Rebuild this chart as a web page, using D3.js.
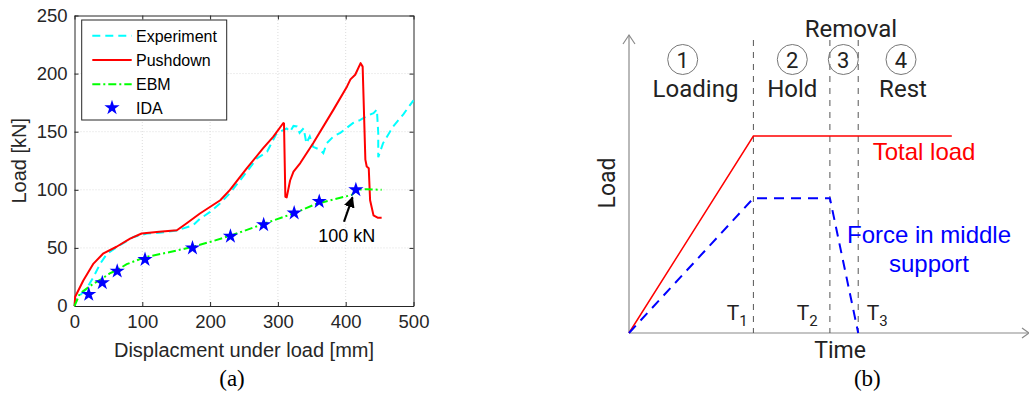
<!DOCTYPE html>
<html><head><meta charset="utf-8">
<script src="https://cdn.jsdelivr.net/npm/d3@7"></script>
<style>body{margin:0;background:#fff}svg{display:block}</style>
</head><body>
<svg id="c" width="1029" height="394"></svg>
<script>
// ---------- Panel (a) data ----------
const xTicks = [0,100,200,300,400,500];
const yTicks = [0,50,100,150,200,250];
const experimentX = [0,1,18,28,38,48,67,87,107,125,151,175,185,200,215,229,244,256,269,284,298,313,318,323,328,332,338,342,347,352,362,367,372,382,392,411,421,433,441,446,448,448,455,470,485,500];
const experimentY = [0,5,15,25,36.5,45,52.3,59.4,62.4,63,65,69.5,75,81,88.5,97,108,117,127,132.7,148.5,152.8,150,155,154.5,149,153,140,146,137,134.5,131.6,140,146,149,157.5,160,164,166,169,149,128,140,154.5,165,177];
const pushdownX = [0,1,13,28,42,62,82,99,125,151,165,185,215,229,254,278,293,308,309,311,313,318,323,333,352,382,402,407,414,422,425,429,431,434,436,441,447,453];
const pushdownY = [0,8,22,36.5,45,51,58,62.4,64,65.2,71,79.6,91,99.7,118.4,135.6,145.6,157.5,157,94,93.5,108,115.7,123,140,169,189,195,199,209,206,126,120,118.6,91,78,76,76];
const ebmX = [0,8,28,39,52,63,77,104,141,175,205,235,278,323,357,409,416,431,453];
const ebmY = [0,10.7,19.3,23,28,31,36,42,46.5,51,56,61.5,70.5,79.6,88,95.6,100,100.5,100];
const idaX = [21,41,63,104,174,230,279,324,361,415];
const idaY = [10,20,30,40,50,60,70,80,90,100];
const legendNames = ["Experiment","Pushdown","EBM","IDA"];

// ---------- Panel (b) data (schematic) ----------
const phaseTimes = [0,4,6.46,7.37,10.38];       // 0, T1, T2, T3, end
const totalLoadT = [0,4,10.38];
const totalLoadV = [0,1,1];
const supportT = [0,4,6.46,7.37];
const supportV = [0,0.684,0.684,0];
const phaseNums = ["1","2","3","4"];
const phaseNames = ["Loading","Hold","","Rest"];

const svg = d3.select("#c");
const axC = "#262626";

// ===== Panel (a) =====
const x = d3.scaleLinear().domain([0,500]).range([74.5,413.5]);
const y = d3.scaleLinear().domain([0,250]).range([306,15.5]);
const ga = svg.append("g");

// grid
ga.selectAll(".gx").data(xTicks.slice(1,-1)).join("line")
  .attr("x1",d=>x(d)).attr("x2",d=>x(d)).attr("y1",y(0)).attr("y2",y(250))
  .attr("stroke","#dcdcdc").attr("stroke-dasharray","1,2").attr("stroke-width",1);
ga.selectAll(".gy").data(yTicks.slice(1,-1)).join("line")
  .attr("y1",d=>y(d)).attr("y2",d=>y(d)).attr("x1",x(0)).attr("x2",x(500))
  .attr("stroke","#dcdcdc").attr("stroke-dasharray","1,2").attr("stroke-width",1);

// axes
const axB = ga.append("g").attr("transform",`translate(0,${y(0)})`)
  .call(d3.axisBottom(x).tickValues(xTicks).tickSizeInner(-4).tickSizeOuter(0).tickPadding(9));
const axT = ga.append("g").attr("transform",`translate(0,${y(250)})`)
  .call(d3.axisTop(x).tickValues(xTicks).tickSizeInner(-4).tickSizeOuter(0).tickFormat(""));
const axL = ga.append("g").attr("transform",`translate(${x(0)},0)`)
  .call(d3.axisLeft(y).tickValues(yTicks).tickSizeInner(-4).tickSizeOuter(0).tickPadding(7));
const axR = ga.append("g").attr("transform",`translate(${x(500)},0)`)
  .call(d3.axisRight(y).tickValues(yTicks).tickSizeInner(-4).tickSizeOuter(0).tickFormat(""));
[axB,axT,axL,axR].forEach(a=>{
  a.select(".domain").attr("stroke",axC).attr("stroke-width",1);
  a.selectAll(".tick line").attr("stroke",axC);
  a.selectAll("text").attr("fill",axC).attr("font-family","Liberation Sans, Arial, sans-serif").attr("font-size",18.5);
});

// lines
const lineA = d3.line().x(d=>x(d[0])).y(d=>y(d[1]));
const expData = experimentX.map((v,i)=>[v,experimentY[i]]);
const pushData = pushdownX.map((v,i)=>[v,pushdownY[i]]);
const ebmData = ebmX.map((v,i)=>[v,ebmY[i]]);
ga.append("path").datum(expData).attr("d",lineA).attr("fill","none")
  .attr("stroke","#00ffff").attr("stroke-width",2).attr("stroke-dasharray","8,5");
ga.append("path").datum(pushData).attr("d",lineA).attr("fill","none")
  .attr("stroke","#ff0000").attr("stroke-width",2).attr("stroke-linejoin","round");
ga.append("path").datum(ebmData).attr("d",lineA).attr("fill","none")
  .attr("stroke","#00ff00").attr("stroke-width",2).attr("stroke-dasharray","8,3,2,3");
const star = d3.symbol().type(d3.symbolStar).size(72);
ga.selectAll(".ida").data(idaX.map((v,i)=>[v,idaY[i]])).join("path")
  .attr("d",star).attr("transform",d=>`translate(${x(d[0])},${y(d[1])})`).attr("fill","#0000ff");

// annotation
ga.append("defs").append("marker").attr("id","ah").attr("viewBox","0 0 10 10").attr("refX",9).attr("refY",5)
  .attr("markerWidth",5).attr("markerHeight",5).attr("orient","auto")
  .append("path").attr("d","M0,0 L10,5 L0,10 z").attr("fill","#000");
ga.append("line").attr("x1",x(397.5)).attr("y1",y(72.5)).attr("x2",x(410)).attr("y2",y(93.5))
  .attr("stroke","#000").attr("stroke-width",2.2).attr("marker-end","url(#ah)");
ga.append("text").attr("x",x(401.5)).attr("y",y(55.5)).attr("text-anchor","middle")
  .attr("font-family","Liberation Sans, Arial, sans-serif").attr("font-size",18).attr("fill","#000").text("100 kN");

// legend
const lg = ga.append("g");
lg.append("rect").attr("x",81.7).attr("y",20).attr("width",145).attr("height",100)
  .attr("fill","#fff").attr("stroke",axC).attr("stroke-width",1);
const rowsY = [35.7,60,84.3,107.7];
const lstyles = [{c:"#00ffff",d:"8,5"},{c:"#ff0000",d:null},{c:"#00ff00",d:"8,3,2,3"}];
lstyles.forEach((s,i)=>{
  lg.append("line").attr("x1",92.3).attr("x2",131.7).attr("y1",rowsY[i]).attr("y2",rowsY[i])
    .attr("stroke",s.c).attr("stroke-width",2).attr("stroke-dasharray",s.d);
});
lg.append("path").attr("d",star).attr("transform",`translate(112,${rowsY[3]})`).attr("fill","#0000ff");
lg.selectAll(".lt").data(legendNames).join("text").attr("x",136).attr("y",(d,i)=>rowsY[i]+6)
  .attr("font-family","Liberation Sans, Arial, sans-serif").attr("font-size",16).attr("fill","#000").text(d=>d);

// axis labels
ga.append("text").attr("x",244).attr("y",357).attr("text-anchor","middle")
  .attr("font-family","Liberation Sans, Arial, sans-serif").attr("font-size",20).attr("fill",axC)
  .text("Displacment under load [mm]");
ga.append("text").attr("transform",`translate(26,${(y(0)+y(250))/2}) rotate(-90)`).attr("text-anchor","middle")
  .attr("font-family","Liberation Sans, Arial, sans-serif").attr("font-size",20).attr("fill",axC)
  .text("Load [kN]");
ga.append("text").attr("x",232).attr("y",386).attr("text-anchor","middle")
  .attr("font-family","Liberation Serif, Times New Roman, serif").attr("font-size",23).attr("fill","#000").text("(a)");

// ===== Panel (b) =====
const tx = d3.scaleLinear().domain([0,10]).range([629,940]);
const ty = d3.scaleLinear().domain([0,1]).range([333,136]);
const gb = svg.append("g");
const gray = "#8a8a8a";
const dinFont = "Roboto, 'Noto Sans', sans-serif";

// axes with open arrows
gb.append("line").attr("x1",tx(0)).attr("y1",ty(0)).attr("x2",tx(0)).attr("y2",35).attr("stroke",gray).attr("stroke-width",1.2);
gb.append("path").attr("d",`M${tx(0)-6},${44} L${tx(0)},35 L${tx(0)+6},44`).attr("fill","none").attr("stroke",gray).attr("stroke-width",1.2);
gb.append("line").attr("x1",tx(0)).attr("y1",ty(0)).attr("x2",1028).attr("y2",ty(0)).attr("stroke",gray).attr("stroke-width",1.2);
gb.append("path").attr("d",`M${1022},${ty(0)-5} L1029,${ty(0)} L1022,${ty(0)+5}`).attr("fill","none").attr("stroke",gray).attr("stroke-width",1.2);

// phase dashed lines
gb.selectAll(".pl").data(phaseTimes.slice(1,4)).join("line")
  .attr("x1",d=>tx(d)).attr("x2",d=>tx(d)).attr("y1",40).attr("y2",ty(0))
  .attr("stroke","#555").attr("stroke-width",1).attr("stroke-dasharray","6,6");

const lineB = d3.line().x(d=>tx(d[0])).y(d=>ty(d[1]));
gb.append("path").datum(totalLoadT.map((t,i)=>[t,totalLoadV[i]])).attr("d",lineB)
  .attr("fill","none").attr("stroke","#ff0000").attr("stroke-width",1.5);
gb.append("path").datum(supportT.map((t,i)=>[t,supportV[i]])).attr("d",lineB)
  .attr("fill","none").attr("stroke","#0000ff").attr("stroke-width",2).attr("stroke-dasharray","10,7");

// phase labels
const phaseCx = [682.7,792.3,843.3,901];
phaseCx.forEach((cx,i)=>{
  gb.append("circle").attr("cx",cx).attr("cy",59.5).attr("r",15).attr("fill","none").attr("stroke","#777").attr("stroke-width",1);
  gb.append("text").attr("x",cx).attr("y",67.5).attr("text-anchor","middle").attr("font-family",dinFont)
    .attr("font-size",22).attr("fill","#222").text(phaseNums[i]);
  if (phaseNames[i]) gb.append("text").attr("x",i===3?903:(i===0?695.5:cx)).attr("y",96.5).attr("text-anchor","middle")
    .attr("font-family",dinFont).attr("font-size",24).attr("fill","#222").text(phaseNames[i]);
});
gb.append("text").attr("x",851).attr("y",37.3).attr("text-anchor","middle").attr("font-family",dinFont)
  .attr("font-size",24).attr("fill","#222").text("Removal");

// T labels
const tLabelX = [726.7,796.7,866.7];
["1","2","3"].forEach((s,i)=>{
  const t = gb.append("text").attr("x",tLabelX[i]).attr("y",320).attr("font-family",dinFont)
    .attr("font-size",21).attr("fill","#222");
  t.append("tspan").text("T");
  t.append("tspan").attr("dy",6).attr("font-size",15).text(s);
});
gb.append("text").attr("x",840).attr("y",358).attr("text-anchor","middle").attr("font-family",dinFont)
  .attr("font-size",23).attr("fill","#222").text("Time");
gb.append("text").attr("transform","translate(615,183) rotate(-90)").attr("text-anchor","middle").attr("font-family",dinFont)
  .attr("font-size",23).attr("fill","#222").text("Load");

// curve labels
gb.append("text").attr("x",872.7).attr("y",160).attr("font-family","Liberation Sans, Arial, sans-serif")
  .attr("font-size",24).attr("fill","#ff0000").text("Total load");
gb.append("text").attr("x",929).attr("y",243).attr("text-anchor","middle").attr("font-family","Liberation Sans, Arial, sans-serif")
  .attr("font-size",24).attr("fill","#0000ff").text("Force in middle");
gb.append("text").attr("x",929).attr("y",272).attr("text-anchor","middle").attr("font-family","Liberation Sans, Arial, sans-serif")
  .attr("font-size",24).attr("fill","#0000ff").text("support");
gb.append("text").attr("x",867.3).attr("y",386).attr("text-anchor","middle")
  .attr("font-family","Liberation Serif, Times New Roman, serif").attr("font-size",23).attr("fill","#000").text("(b)");
</script>
</body></html>
